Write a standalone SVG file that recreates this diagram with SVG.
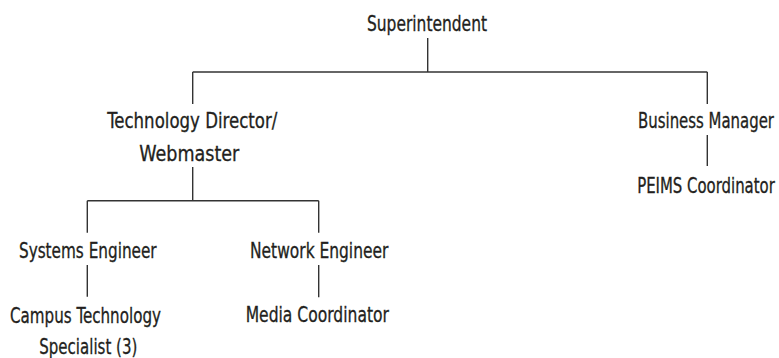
<svg xmlns="http://www.w3.org/2000/svg" width="779" height="358" viewBox="0 0 779 358">
<style>
.t{font-family:"DejaVu Sans Condensed","Liberation Sans Narrow","Liberation Sans",sans-serif;font-size:21px;fill:#231f20;stroke:#231f20;stroke-width:0.3;text-anchor:middle}
.c line{stroke:#333;stroke-width:1.4;fill:none}
</style>
<rect width="779" height="358" fill="#fff"/>
<g id="connectors" class="c">
<line x1="427.7" y1="38" x2="427.7" y2="72"/>
<line x1="192.7" y1="72" x2="707.3" y2="72"/>
<line x1="192.7" y1="72" x2="192.7" y2="104"/>
<line x1="707.3" y1="72" x2="707.3" y2="104"/>
<line x1="707.3" y1="135" x2="707.3" y2="166"/>
<line x1="192.7" y1="167" x2="192.7" y2="200.7"/>
<line x1="87.3" y1="200.7" x2="318.7" y2="200.7"/>
<line x1="87.3" y1="200.7" x2="87.3" y2="232.7"/>
<line x1="318.7" y1="200.7" x2="318.7" y2="232.7"/>
<line x1="87.3" y1="265" x2="87.3" y2="296.7"/>
<line x1="318.7" y1="265" x2="318.7" y2="297.3"/>
</g>
<g id="superintendent"><text class="t" x="427" y="30.7" textLength="120" lengthAdjust="spacingAndGlyphs">Superintendent</text></g>
<g id="tech-director">
<text class="t" x="192.3" y="128.3" textLength="170" lengthAdjust="spacingAndGlyphs">Technology Director/</text>
<text class="t" x="189.3" y="161" textLength="100" lengthAdjust="spacingAndGlyphs">Webmaster</text>
</g>
<g id="business-manager"><text class="t" transform="translate(706 127.7) scale(0.79 1)" x="0" y="0">Business Manager</text></g>
<g id="peims"><text class="t" transform="translate(706 193.3) scale(0.79 1)" x="0" y="0">PEIMS Coordinator</text></g>
<g id="systems-engineer"><text class="t" x="87.8" y="258.3" textLength="137.7" lengthAdjust="spacingAndGlyphs">Systems Engineer</text></g>
<g id="network-engineer"><text class="t" x="319.2" y="258.3" textLength="138.3" lengthAdjust="spacingAndGlyphs">Network Engineer</text></g>
<g id="campus-tech">
<text class="t" x="85.5" y="323.3" textLength="151" lengthAdjust="spacingAndGlyphs">Campus Technology</text>
<text class="t" x="88.3" y="354.3" textLength="98" lengthAdjust="spacingAndGlyphs">Specialist (3)</text>
</g>
<g id="media-coordinator"><text class="t" x="317.3" y="321.5" textLength="143.3" lengthAdjust="spacingAndGlyphs">Media Coordinator</text></g>
</svg>
